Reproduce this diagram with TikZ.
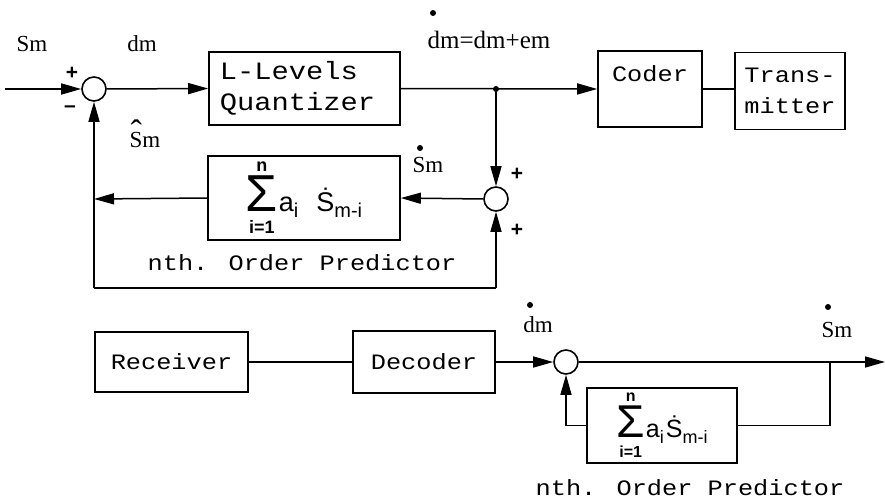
\documentclass[tikz,border=0pt]{standalone}
\usepackage{fontspec}
\setmainfont{Liberation Serif}
\newfontfamily\tw[FakeStretch=1.15]{Liberation Mono}
\newfontfamily\sfb{Liberation Sans}
\usetikzlibrary{arrows.meta}
\tikzset{
  blk/.style={draw, line width=1.6pt, inner sep=0pt, font=\tw\fontsize{22}{31}\selectfont},
  sumc/.style={draw, circle, line width=1.6pt, minimum size=24pt, inner sep=0pt},
  wire/.style={line width=1.5pt},
  arr/.style={wire, -{Triangle[length=20pt,width=11pt]}},
  lbl/.style={inner sep=0pt, font=\fontsize{23}{26}\selectfont},
  sgn/.style={inner sep=0pt, font=\sfb\bfseries\fontsize{21}{22}\selectfont},
  jdot/.style={circle, fill, inner sep=0pt, minimum size=6pt},
  captxt/.style={inner sep=0pt, font=\tw\fontsize{22}{26}\selectfont},
}
% #1 sigma size, #2 limit size, #3 letter size, #4 subscript size, #5 gap before S
\newcommand{\predsum}[5]{%
$\displaystyle\mathop{\hbox{\sfb\fontsize{#1}{#1}\selectfont Σ}}\limits^{\hbox{\sfb\bfseries\fontsize{#2}{#2}\selectfont\rule[-3pt]{0pt}{3pt}n}}_{\hbox{\sfb\bfseries\fontsize{#2}{#2}\selectfont\rule{0pt}{1.15em}i=1}}$%
\hspace{1pt}{\sfb\fontsize{#3}{#3}\selectfont a\raisebox{-.22em}{\fontsize{#4}{#4}\selectfont i}\hspace{#5}\.{S}\raisebox{-.22em}{\fontsize{#4}{#4}\selectfont m-i}}}
\begin{document}
\begin{tikzpicture}[x=1pt,y=-1pt]
\useasboundingbox (0,0) rectangle (885,500);
% top row
\node[sumc] (s1) at (94,89) {};
\node[blk, font=\tw\fontsize{25}{31}\selectfont, minimum width=191pt, minimum height=73pt, align=left] (quant) at (304.5,88.5) {L-Levels\\Quantizer\hspace*{14pt}};
\node[blk, minimum width=104pt, minimum height=76pt, align=center] (coder) at (650,89) {Coder\\~};
\node[blk, minimum width=110pt, minimum height=77pt, align=left] (trans) at (790,91) {Trans-\\mitter};
\node[sumc] (s2) at (496,199) {};
\node[blk, minimum width=192pt, minimum height=84pt] (pred1) at (304,198) {\predsum{52}{18}{27}{20}{18pt}};
\coordinate (in) at (5,89);
\node[jdot] (j1) at (496,89) {};
\coordinate (j2) at (94,199);
\coordinate (c1) at (94,288);
\coordinate (c2) at (496,288);
\draw[arr] (in) -- (s1.west);
\draw[arr] (s1.east) -- (quant.west);
\draw[arr] (quant.east) -- (coder.west);
\draw[wire] (coder.east) -- (coder.east -| trans.west);
\draw[arr] (j1) -- (s2.north);
\draw[arr] (s2.west) -- (pred1.east);
\draw[arr] (pred1.west) -- (j2);
\draw[arr] (c2) -- (s2.south);
\draw[wire] (c2) -- (c1);
\draw[arr] (c1) -- (s1.south);
% top labels
\node[lbl] (lsm) at (32,44) {Sm};
\node[lbl] (ldm) at (142,44) {dm};
\node[sgn] (p1) at (72,73) {+};
\node[sgn] (m1) at (70,109) {–};
\node[lbl, anchor=base] (lhat) at (145,147) {\makebox[0pt][l]{\hspace{1pt}\raisebox{4pt}{\fontsize{34}{34}\selectfont ˆ}}Sm};
\node[lbl] (leq) at (489,40) {\fontsize{25}{26}\selectfont dm=dm+em};
\node[jdot] (dd1) at (433,13) {};
\node[lbl] (lsd) at (428,165) {Sm};
\node[jdot] (dd2) at (420,148) {};
\node[sgn] (p2) at (517,174) {+};
\node[sgn] (p3) at (517,230) {+};
\node[captxt] (cap1) at (302,263) {nth. Order Predictor};
% bottom row
\node[blk, minimum width=153pt, minimum height=60pt] (recv) at (171.5,362) {Receiver};
\node[blk, minimum width=142pt, minimum height=62pt] (dec) at (424,362) {Decoder};
\node[sumc] (s3) at (566,362) {};
\node[blk, minimum width=150pt, minimum height=75pt] (pred2) at (662,425.5) {\predsum{46}{16}{25}{18}{2pt}\hspace{20pt}};
\coordinate (out) at (885,362);
\coordinate (j3) at (830,362);
\coordinate (c3) at (830,425.5);
\coordinate (c4) at (566,425.5);
\draw[wire] (recv.east) -- (dec.west);
\draw[arr] (dec.east) -- (s3.west);
\draw[arr] (s3.east) -- (out);
\draw[wire] (pred2.east) -- (c3) -- (j3);
\draw[wire] (pred2.west) -- (c4);
\draw[arr] (c4) -- (s3.south);
\node[jdot] (dd3) at (530,305) {};
\node[lbl] (ldm2) at (538,325) {dm};
\node[jdot] (dd4) at (828,307) {};
\node[lbl] (lsm2) at (837,330) {Sm};
\node[captxt] (cap2) at (690,488) {nth. Order Predictor};
\end{tikzpicture}
\end{document}
